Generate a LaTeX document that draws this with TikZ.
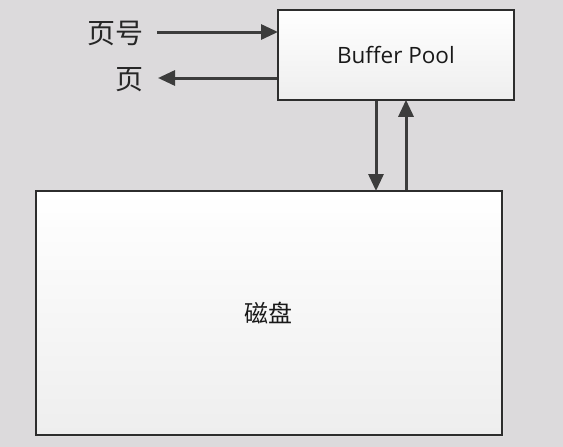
\documentclass[tikz,border=0pt]{standalone}
\usepackage{fontspec}
\setmainfont{Open Sans}
\newfontfamily\cjk{Noto Sans CJK SC}[Scale=1]
\usetikzlibrary{arrows.meta,shadows}
\definecolor{bg}{RGB}{220,218,220}
\definecolor{edge}{RGB}{45,45,45}
\definecolor{arr}{RGB}{60,60,60}
\definecolor{boxtop}{RGB}{255,255,255}
\definecolor{boxbot}{RGB}{238,238,238}
\tikzset{
  box/.style={draw=edge, line width=1.8pt, top color=boxtop, bottom color=boxbot, inner sep=0pt, anchor=north west},
  conn/.style={draw=arr, line width=3pt, -{Triangle[length=17pt,width=15pt]}, shorten >=-1pt},
  lbl/.style={font=\cjk\fontsize{28}{32}\selectfont, text=black!85, inner sep=0pt}
}
\begin{document}
\begin{tikzpicture}[x=1pt,y=-1pt]
\fill[bg] (0,0) rectangle (563,447);
\useasboundingbox (0,0) rectangle (563,447);
\node[box, minimum width=236pt, minimum height=90pt] (bp) at (277,9) {};
\node[font=\fontsize{22.5}{27}\selectfont, text=black!90] at (bp.center) {Buffer Pool};
\fill[black!12] (38,193) rectangle (504,437);
\node[box, minimum width=466pt, minimum height=244pt] (disk) at (35,190) {};
\node[font=\cjk\fontsize{24}{28}\selectfont, text=black!90] at (disk.center) {磁盘};
\node[lbl] (pno) at (115,33) {页号};
\node[lbl] (pg) at (129,80) {页};
\coordinate (a1) at (157,32);
\coordinate (a2) at (159,78);
\draw[conn] (a1) -- (a1 -| bp.west);
\draw[conn] (a2 -| bp.west) -- (a2);
\coordinate (d1) at (376,0);
\coordinate (u1) at (406,0);
\draw[conn] (d1 |- bp.south) -- (d1 |- disk.north);
\draw[conn] (u1 |- disk.north) -- (u1 |- bp.south);
\end{tikzpicture}
\end{document}
